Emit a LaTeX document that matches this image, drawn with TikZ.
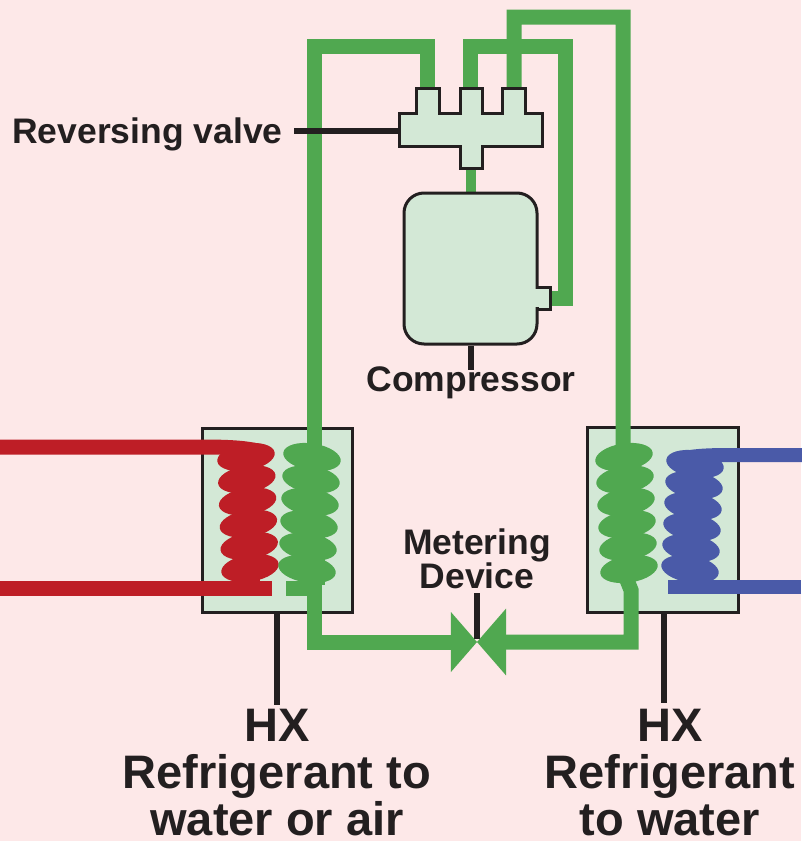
\documentclass[tikz,border=0pt]{standalone}
\usepackage{fontspec}
\setmainfont{Liberation Sans}
\usetikzlibrary{shapes.geometric}
\usetikzlibrary{positioning}
\definecolor{backpink}{HTML}{FDE8E8}
\definecolor{unitgreen}{HTML}{D3E8D6}
\definecolor{pipegreen}{HTML}{50A850}
\definecolor{hotred}{HTML}{BE1E26}
\definecolor{coldblue}{HTML}{4A5AA8}
\definecolor{inkblack}{HTML}{231F20}
\tikzset{
    pipe/.style={line width=15pt,pipegreen},
    leader/.style={line width=6pt,inkblack},
    unit/.style={draw=inkblack,fill=unitgreen,line width=3pt,line join=miter},
    coilloop/.style={ellipse,fill,inner sep=0pt,outer sep=0pt,minimum width=58pt,minimum height=27pt},
    smalllabel/.style={font=\bfseries\fontsize{35.5}{33}\selectfont,text=inkblack,align=center,inner sep=0pt},
    biglabel/.style={font=\bfseries\fontsize{47}{47}\selectfont,text=inkblack,align=center,inner sep=0pt},
}
\begin{document}
\begin{tikzpicture}[x=1pt,y=-1pt]
    \useasboundingbox (0,0) rectangle (801,841);
    \fill[backpink] (0,0) rectangle (801,841);

    % heat exchanger boxes and compressor
    \node[unit,draw,minimum width=150pt,minimum height=184pt,inner sep=0pt] (HXL) at (277,520) {};
    \node[unit,draw,minimum width=151pt,minimum height=185pt,inner sep=0pt] (HXR) at (662.5,519.5) {};

    \coordinate (P1) at (427,90);
    \coordinate (P2) at (470.5,90);
    \coordinate (P3) at (514,90);
    \coordinate (NL) at (314,588);
    \coordinate (NR) at (631,642);
    \coordinate (VL) at (465,642);
    \coordinate (VR) at (492,642);

    % refrigerant lines
    \draw[pipe] (P1) |- (314,46) -- (314,642) -- (VL);
    \draw[pipe] (P2) |- (565,46) |- (548,298);
    \draw[pipe] (P3) |- (623,17) -- (623,570) -- (631,590) -- (NR) -- (VR);
    \draw[pipe] (286,588) -- (NL);
    \draw[pipegreen,line width=10pt] (470.5,165) -- (470.5,195);

    % valve
    \draw[unit] (399,113) -- (416,113) -- (416,88) -- (439,88) -- (439,113)
        -- (460,113) -- (460,88) -- (482,88) -- (482,113)
        -- (502,113) -- (502,88) -- (525,88) -- (525,113)
        -- (542,113) -- (542,146) -- (482,146) -- (482,168) -- (460,168) -- (460,146)
        -- (399,146) -- cycle;
    \coordinate (VB) at (399,131);

    % compressor
    \node[unit,draw,minimum width=13pt,minimum height=22pt,inner sep=0pt] (CN) at (544,298) {};
    \node[unit,draw,rounded corners=20pt,minimum width=133pt,minimum height=151pt,inner sep=0pt] (CP) at (470.5,268.5) {};
    \fill[unitgreen] (534,289) rectangle (541,307);

    % coils
    \fill[hotred] (236,450) rectangle (260,585);
    \foreach \n[
        evaluate = \n as \cy using {457+22.2*(\n-1)},
        evaluate = \n as \cx using {246+0.8*(\n-1)},
    ] in {1,...,6}{%
        \node[coilloop,hotred,rotate=9] (RC\n) at (\cx,\cy) {};
    }
    \foreach \n[
        evaluate = \n as \cy using {457+22.4*(\n-1)},
        evaluate = \n as \cx using {312-1*(\n-1)},
    ] in {1,...,6}{%
        \node[coilloop,pipegreen,rotate=-9] (GL\n) at (\cx,\cy) {};
    }
    \fill[pipegreen] (300,450) rectangle (325,585);
    \foreach \n[
        evaluate = \n as \cy using {457+22.4*(\n-1)},
        evaluate = \n as \cx using {624+1*(\n-1)},
    ] in {1,...,6}{%
        \node[coilloop,pipegreen,rotate=9] (GR\n) at (\cx,\cy) {};
    }
    \fill[pipegreen] (612,450) rectangle (637,575);
    \fill[coldblue] (680,458) rectangle (704,585);
    \foreach \n[
        evaluate = \n as \cy using {464+21*(\n-1)},
        evaluate = \n as \cx using {695-1*(\n-1)},
    ] in {1,...,6}{%
        \node[coilloop,coldblue,rotate=-9] (BC\n) at (\cx,\cy) {};
    }

    % hot and cold loops
    \draw[hotred,line width=15pt,line cap=round] (0,447) -- (200,447) .. controls (230,447) and (250,448) .. (264,453);
    \draw[hotred,line width=15pt] (0,588) -- (272,588);
    \draw[coldblue,line width=14pt,line cap=round] (810,455) -- (730,455) .. controls (705,455) and (690,456) .. (676,460);
    \draw[coldblue,line width=14pt] (801,587) -- (668,587);

    % metering valve
    \node[fill=pipegreen,isosceles triangle,isosceles triangle apex angle=98,inner sep=0pt,outer sep=0pt,minimum height=26pt,minimum width=60pt,anchor=apex] (ML) at (477,642) {};
    \node[fill=pipegreen,isosceles triangle,isosceles triangle apex angle=98,inner sep=0pt,outer sep=0pt,minimum height=29pt,minimum width=60pt,anchor=apex,shape border rotate=180] (MR) at (477,642) {};

    % labels
    \node[smalllabel,anchor=west] (RV) at (12,134) {Reversing valve};
    \node[smalllabel] (CL) at (471,383) {Compressor};
    \node[smalllabel] (MD) at (477,559) {Metering\\Device};
    \node[biglabel] (TL) at (277,773) {HX\\Refrigerant to\\water or air};
    \node[biglabel] (TR) at (670,773) {HX\\Refrigerant\\to water};

    \draw[leader] (294,131) -- (VB);
    \draw[leader] (CP.south) -- ++(0,24);
    \draw[leader] (477,593) -- (477,639);
    \draw[leader] (HXL.south) -- ++(0,91);
    \draw[leader] (664,612) -- (664,703);
\end{tikzpicture}
\end{document}
